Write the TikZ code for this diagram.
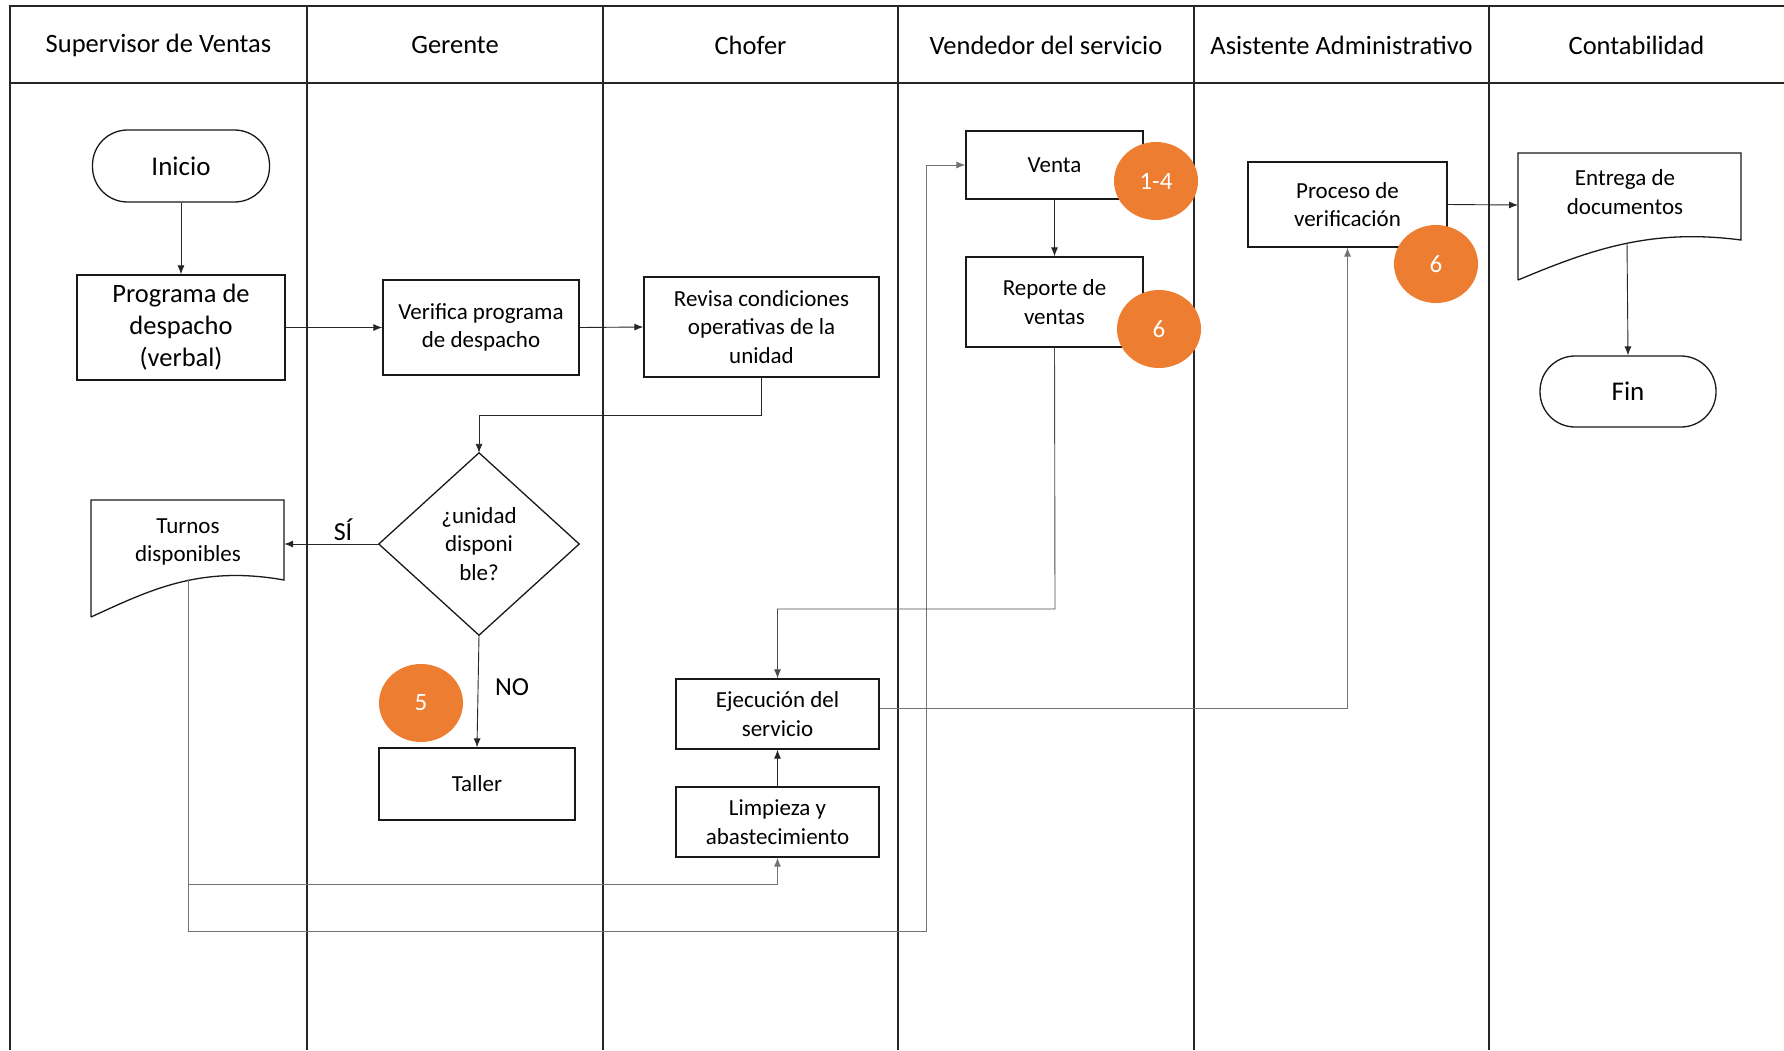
\documentclass[tikz,border=0pt]{standalone}
\usepackage{fontspec}
\setmainfont{Carlito}
\usetikzlibrary{arrows.meta,shapes.geometric}
\definecolor{orangeA}{HTML}{ED7D31}
\begin{document}
\begin{tikzpicture}[x=1pt,y=-1pt,
  lane/.style={line width=1.4pt,black!85},
  hdr/.style={font=\fontsize{26.5}{30}\selectfont,inner sep=0pt},
  box/.style={draw,line width=1.3pt,black!90,text=black,rectangle,inner sep=0pt,align=center,font=\fontsize{23}{28.5}\selectfont},
  bigbox/.style={box,font=\fontsize{26.5}{32}\selectfont},
  term/.style={box,rounded corners=35pt,font=\fontsize{27}{32}\selectfont},
  ghost/.style={rectangle,draw=none,inner sep=0pt},
  txt/.style={inner sep=0pt,align=center,font=\fontsize{23}{28.5}\selectfont},
  badge/.style={ellipse,fill=orangeA,draw=none,inner sep=0pt,minimum width=84pt,minimum height=78pt,text=white,font=\fontsize{25}{28}\selectfont},
  conn/.style={line width=0.9pt,black!85,-{Latex[length=9pt,width=7pt]}},
  gconn/.style={conn,black!55},
  lbl/.style={inner sep=0pt,font=\fontsize{26}{30}\selectfont}
]
\useasboundingbox (0,0) rectangle (1784,1050);
\fill[white] (0,0) rectangle (1784,1050);

% frame and lanes
\draw[lane] (10,1050) -- (10,6) -- (1784,6);
\draw[lane] (10,83) -- (1784,83);
\foreach \x in {307,603,898,1194,1489} \draw[lane] (\x,6) -- (\x,1050);

% headers
\node[hdr] (h1) at (158.5,45) {Supervisor de Ventas};
\node[hdr] (h2) at (455,45) {Gerente};
\node[hdr] (h3) at (750.5,45) {Chofer};
\node[hdr] (h4) at (1046,45) {Vendedor del servicio};
\node[hdr] (h5) at (1341.5,45) {Asistente Administrativo};
\node[hdr] (h6) at (1636.5,45) {Contabilidad};

% nodes
\node[term,minimum width=177pt,minimum height=72pt] (inicio) at (181,166) {Inicio};
\node[bigbox,minimum width=208pt,minimum height=105pt] (prog) at (181,327.5) {Programa de\\despacho\\(verbal)};
\node[box,minimum width=196pt,minimum height=95pt] (verif) at (481,327.5) {Verifica programa\\de despacho};
\node[box,minimum width=235pt,minimum height=100pt] (revisa) at (761.5,327) {Revisa condiciones\\operativas de la\\unidad};

\node[ghost,minimum width=200pt,minimum height=182pt] (dec) at (479,544) {};
\draw[line width=1.3pt,black!90] (dec.north) -- (dec.east) -- (dec.south) -- (dec.west) -- cycle;
\node[txt] (decT) at (479,544) {¿unidad\\disponi\\ble?};

\node[ghost,minimum width=193pt,minimum height=117pt] (turnos) at (187.5,558.5) {};
\draw[line width=1.3pt,black!90] (91,617) -- (91,500) -- (284,500) -- (284,580)
  .. controls (200,565) and (150,590) .. (91,617);
\node[txt] (turnosT) at (188,542) {Turnos\\disponibles};
\coordinate (turnosB) at (188,580);

\node[box,minimum width=196pt,minimum height=72pt] (taller) at (477,784) {Taller};
\node[box,minimum width=203pt,minimum height=70pt] (ejec) at (777.5,714) {Ejecución del\\servicio};
\node[box,minimum width=203pt,minimum height=70pt] (limp) at (777.5,822) {Limpieza y\\abastecimiento};

\node[box,minimum width=177pt,minimum height=68pt] (venta) at (1054.5,165) {Venta};
\node[box,minimum width=177pt,minimum height=90pt] (rep) at (1054.5,302) {Reporte de\\ventas};
\node[box,minimum width=199pt,minimum height=85pt] (proc) at (1347.5,204.5) {Proceso de\\verificación};

\node[ghost,minimum width=223pt,minimum height=127pt] (entrega) at (1629.5,216.5) {};
\draw[line width=1.3pt,black!90] (1518,280) -- (1518,153) -- (1741,153) -- (1741,240)
  .. controls (1650,228) and (1590,250) .. (1518,280);
\node[txt] (entregaT) at (1625,192) {Entrega de\\documentos};
\coordinate (entregaB) at (1627,243);

\node[term,minimum width=176pt,minimum height=71pt] (fin) at (1628,391.5) {Fin};

% connectors
\draw[conn] (inicio.south) -- (prog.north);
\draw[conn] (prog.east) -- (verif.west);
\draw[conn] (verif.east) -- (revisa.west);
\draw[conn] (revisa.south) -- (761.5,415) -| (dec.north);
\draw[conn] (dec.west) -- (turnos.east |- dec.west);
\node[lbl] (si) at (343,530) {SÍ};
\draw[conn] (dec.south) -- (taller.north);
\node[lbl] (no) at (512,687) {NO};
\draw[gconn] (turnosB) -- (188,884) -| (limp.south);
\draw[gconn] (188,884) -- (188,931) -- (926,931) |- (venta.west);
\draw[conn] (limp.north) -- (ejec.south);
\draw[conn,black!70] (rep.south) -- (1055,609) -| (ejec.north);
\draw[gconn] (ejec.east |- 0,708) -| (proc.south);
\draw[conn] (venta.south) -- (rep.north);
\draw[conn] (proc.east) -- (1518,205);
\draw[conn] (entregaB) -- (fin.north);

% badges
\node[badge] (b14) at (1156,181) {1-4};
\node[badge] (b6a) at (1159,329) {6};
\node[badge] (b6b) at (1436,264) {6};
\node[badge] (b5) at (421,703) {5};
\end{tikzpicture}
\end{document}
